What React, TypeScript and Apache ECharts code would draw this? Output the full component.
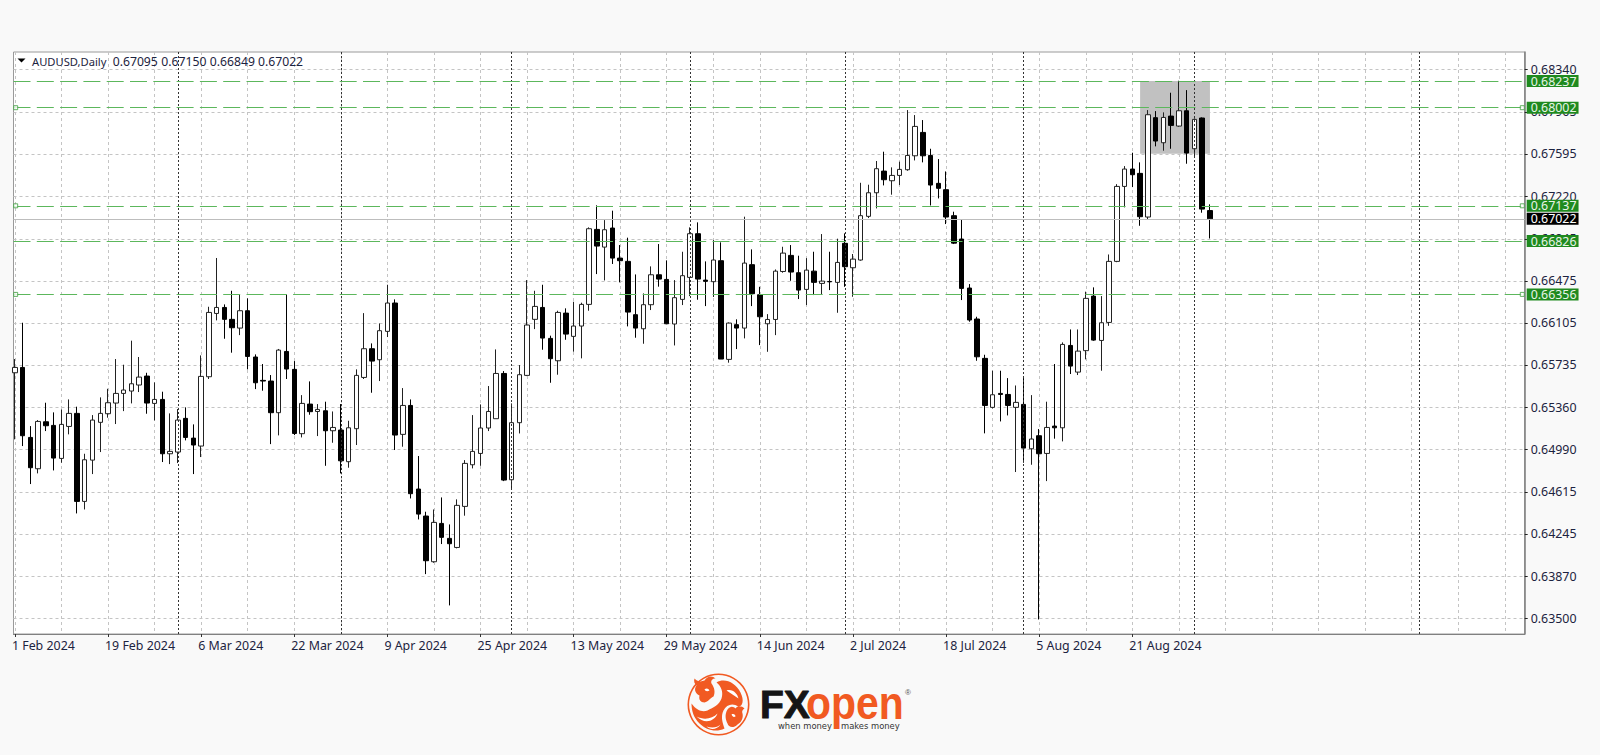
import React, { useEffect, useRef } from "react";
import * as echarts from "echarts";

const symbolTitle = "AUDUSD,Daily";
const ohlcText = ["0.67095", "0.67150", "0.66849", "0.67022"];

const opens = [
  0.65665, 0.65712, 0.65095, 0.64819, 0.65233, 0.65201, 0.6491, 0.65192, 0.65307, 0.64531,
  0.64895, 0.65228, 0.65304, 0.65398, 0.65483, 0.65504, 0.65557, 0.65636, 0.65395, 0.6543,
  0.64951, 0.64966, 0.65263, 0.65089, 0.65019, 0.6563, 0.66188, 0.66241, 0.66136, 0.66059,
  0.66212, 0.65804, 0.65598, 0.65592, 0.65313, 0.65853, 0.65695, 0.65128, 0.65389, 0.65324,
  0.6533, 0.65154, 0.6516, 0.64881, 0.65172, 0.65624, 0.65877, 0.6578, 0.6603, 0.6628,
  0.65122, 0.65377, 0.6464, 0.64402, 0.63999, 0.64337, 0.64205, 0.64125, 0.64487, 0.64854,
  0.64954, 0.65178, 0.6526, 0.65659, 0.64722, 0.65225, 0.65642, 0.66136, 0.66241, 0.65968,
  0.65771, 0.66191, 0.65986, 0.66077, 0.66268, 0.66929, 0.66773, 0.66941, 0.66676, 0.66647,
  0.66177, 0.66053, 0.66265, 0.66529, 0.66488, 0.66095, 0.66312, 0.66506, 0.66891, 0.66482,
  0.66468, 0.66653, 0.65783, 0.66089, 0.66059, 0.66618, 0.66353, 0.66097, 0.66135, 0.66558,
  0.667, 0.66547, 0.664, 0.66561, 0.66453, 0.6647, 0.66462, 0.66806, 0.66591, 0.66659,
  0.67044, 0.67252, 0.67443, 0.67358, 0.67405, 0.67455, 0.67578, 0.67784, 0.67581, 0.67335,
  0.67279, 0.6705, 0.66844, 0.66412, 0.66139, 0.65792, 0.6536, 0.65483, 0.65474, 0.6536,
  0.65386, 0.64995, 0.6511, 0.64954, 0.65195, 0.6518, 0.65906, 0.65671, 0.6586, 0.66341,
  0.6595, 0.66109, 0.66647, 0.67308, 0.67461, 0.67423, 0.67038, 0.67914, 0.67693, 0.67928,
  0.6784, 0.67975, 0.6764, 0.67911, 0.67095,
];
const closes = [
  0.65712, 0.6511, 0.64828, 0.65236, 0.65198, 0.64913, 0.6521, 0.65307, 0.64531, 0.64898,
  0.65248, 0.65307, 0.65401, 0.65483, 0.65513, 0.65568, 0.65627, 0.65398, 0.6543, 0.64951,
  0.64972, 0.65248, 0.65095, 0.65028, 0.65633, 0.66197, 0.66241, 0.66136, 0.66062, 0.66212,
  0.65809, 0.65577, 0.65592, 0.65313, 0.65865, 0.65698, 0.6513, 0.65395, 0.65322, 0.65342,
  0.65154, 0.65183, 0.64889, 0.6518, 0.65642, 0.65877, 0.65768, 0.66036, 0.6628, 0.65116,
  0.65377, 0.64599, 0.64419, 0.64008, 0.64346, 0.64214, 0.64158, 0.64496, 0.64866, 0.64972,
  0.65178, 0.65324, 0.65659, 0.64719, 0.65225, 0.65648, 0.66086, 0.6625, 0.65971, 0.65789,
  0.66197, 0.66006, 0.66077, 0.66268, 0.66935, 0.66782, 0.66926, 0.66676, 0.66653, 0.662,
  0.66059, 0.66265, 0.66529, 0.66491, 0.66097, 0.66327, 0.66521, 0.66891, 0.66491, 0.66471,
  0.66659, 0.65786, 0.66103, 0.66059, 0.66632, 0.66362, 0.66159, 0.66135, 0.66561, 0.6672,
  0.66553, 0.66394, 0.6657, 0.66462, 0.66473, 0.66467, 0.66638, 0.666, 0.66667, 0.6705,
  0.67252, 0.67464, 0.67367, 0.67405, 0.67458, 0.67581, 0.67837, 0.67578, 0.6732, 0.67291,
  0.67038, 0.66808, 0.66409, 0.6613, 0.65806, 0.65377, 0.65471, 0.65474, 0.65377, 0.65404,
  0.65001, 0.65081, 0.64951, 0.65183, 0.6518, 0.65915, 0.65724, 0.65856, 0.66321, 0.65953,
  0.66106, 0.66647, 0.67308, 0.67461, 0.67411, 0.67041, 0.6794, 0.67708, 0.67916, 0.67846,
  0.67975, 0.67602, 0.67899, 0.67108, 0.67022,
];
const lows = [
  0.65078, 0.65019, 0.64684, 0.64778, 0.65151, 0.64804, 0.64872, 0.65122, 0.64425, 0.6446,
  0.64772, 0.64966, 0.65269, 0.65213, 0.65327, 0.65395, 0.65495, 0.65304, 0.65245, 0.64878,
  0.6486, 0.64869, 0.65069, 0.64772, 0.64922, 0.6561, 0.66127, 0.65965, 0.65842, 0.65997,
  0.65695, 0.65521, 0.65507, 0.65036, 0.65113, 0.6561, 0.65116, 0.65095, 0.65295, 0.65107,
  0.64845, 0.65048, 0.64778, 0.64828, 0.65028, 0.6561, 0.65489, 0.65592, 0.6598, 0.64984,
  0.65013, 0.64557, 0.64372, 0.6389, 0.6399, 0.64155, 0.63614, 0.64117, 0.64405, 0.64822,
  0.64845, 0.65151, 0.6526, 0.6471, 0.64646, 0.6513, 0.65636, 0.6605, 0.65868, 0.65577,
  0.65648, 0.65956, 0.65851, 0.65792, 0.66212, 0.66535, 0.66479, 0.66624, 0.66462, 0.66074,
  0.65974, 0.65921, 0.66218, 0.66424, 0.66097, 0.65906, 0.66262, 0.66341, 0.66309, 0.66253,
  0.66333, 0.65786, 0.65754, 0.65874, 0.65968, 0.66253, 0.65909, 0.6585, 0.65997, 0.66547,
  0.66476, 0.66315, 0.66262, 0.6635, 0.66359, 0.66394, 0.66194, 0.66423, 0.66335, 0.66653,
  0.67029, 0.67114, 0.67317, 0.67235, 0.6732, 0.67446, 0.67537, 0.6752, 0.6714, 0.67202,
  0.66976, 0.668, 0.66306, 0.66115, 0.65771, 0.65131, 0.65351, 0.65236, 0.65289, 0.6479,
  0.64872, 0.64854, 0.6349, 0.6471, 0.65084, 0.6506, 0.65654, 0.65645, 0.65783, 0.65947,
  0.65683, 0.66079, 0.6664, 0.67123, 0.67302, 0.66961, 0.6702, 0.67661, 0.67623, 0.6764,
  0.67834, 0.67508, 0.67564, 0.67076, 0.66849,
];
const highs = [
  0.65786, 0.66106, 0.65195, 0.65248, 0.65401, 0.65316, 0.65342, 0.6543, 0.65366, 0.64951,
  0.65292, 0.65448, 0.65524, 0.65786, 0.65736, 0.65948, 0.65804, 0.65665, 0.6558, 0.65498,
  0.65307, 0.65345, 0.6536, 0.6521, 0.65818, 0.66247, 0.66677, 0.66268, 0.66388, 0.66356,
  0.66321, 0.65827, 0.65742, 0.65645, 0.65875, 0.66356, 0.65768, 0.65468, 0.65589, 0.65389,
  0.6541, 0.65324, 0.65389, 0.65242, 0.65695, 0.66191, 0.65924, 0.661, 0.66441, 0.66312,
  0.6553, 0.6543, 0.64931, 0.6444, 0.6446, 0.64566, 0.64328, 0.64549, 0.64895, 0.65292,
  0.65386, 0.65548, 0.65871, 0.6568, 0.65395, 0.65733, 0.66482, 0.66388, 0.66441, 0.65992,
  0.66212, 0.66233, 0.66291, 0.66283, 0.66947, 0.67141, 0.67011, 0.67094, 0.66791, 0.66856,
  0.66532, 0.66365, 0.66603, 0.668, 0.66656, 0.66482, 0.66732, 0.66947, 0.66991, 0.66647,
  0.66835, 0.66815, 0.66109, 0.66136, 0.67041, 0.66753, 0.66423, 0.66182, 0.66576, 0.66776,
  0.66791, 0.66697, 0.66676, 0.66732, 0.66888, 0.66732, 0.66847, 0.66894, 0.66712, 0.6734,
  0.67323, 0.67532, 0.67614, 0.67476, 0.67526, 0.67981, 0.67937, 0.67893, 0.6764, 0.67549,
  0.6744, 0.67085, 0.6702, 0.66447, 0.66159, 0.65824, 0.65683, 0.65683, 0.65618, 0.65553,
  0.65618, 0.65468, 0.65169, 0.6541, 0.65742, 0.65933, 0.66047, 0.66047, 0.6638, 0.66418,
  0.66341, 0.66708, 0.67328, 0.67487, 0.67605, 0.6752, 0.67981, 0.67972, 0.67961, 0.68134,
  0.6824, 0.68157, 0.67908, 0.67916, 0.6715,
];

const priceTicks = [
  0.6834, 0.67965, 0.67595, 0.6722, 0.66845, 0.66475, 0.66105, 0.65735, 0.6536, 0.6499, 0.64615, 0.64245, 0.6387,
  0.635,
];
const gridBarIndexes = [
  0, 6, 12, 18, 24, 30, 36, 42, 48, 54, 60, 66, 72, 78, 84, 90, 96, 102, 108, 114, 120, 126, 132, 138, 144, 150, 156,
  162, 168, 174, 180, 186, 192,
];
const dateLabelIndexes = [0, 12, 24, 36, 48, 60, 72, 84, 96, 108, 120, 132, 144];
const dateLabels = [
  "1 Feb 2024", "19 Feb 2024", "6 Mar 2024", "22 Mar 2024", "9 Apr 2024", "25 Apr 2024", "13 May 2024",
  "29 May 2024", "14 Jun 2024", "2 Jul 2024", "18 Jul 2024", "5 Aug 2024", "21 Aug 2024",
];
const periodSeparators = [21, 42, 64, 87, 107, 130, 152, 181];
const levelLines = [0.68237, 0.68002, 0.67137, 0.66826, 0.66356];
const anchoredLevels = [0.68002, 0.67137, 0.66356];
const lastPrice = 0.67022;
const zoneBars = [145, 154];
const zonePrices = [0.68237, 0.67595];

const UI_FONT = '"Noto Sans"';
const UI_SIZE = 12.4;
const GREEN = "#5cb75c";
const TAG_GREEN = "#1f8a1f";
const LABEL = "#1c2340";
const ORANGE = "#f15a22";

echarts.graphic.registerShape(
  "fxBullOrange",
  echarts.graphic.extendPath(
    "M-24 -26 C-20 -22 -17 -23 -14 -24 C-11 -29 -6 -29 -3 -26 C-6 -26 -8 -24 -7 -21 C-4 -17 -3 -12 -5 -8 C-9 -6 -10 -3 -14 -2 C-18 -2 -20 -5 -19 -9 C-23 -11 -25 -15 -22 -19 C-24 -21 -25 -23 -24 -26Z " +
      "M-2 -22 C6 -27 17 -22 22 -12 C26 -4 24 2 20 2 C14 -2 8 0 5 6 C2 12 4 18 6 24 C-2 28 -12 26 -19 19 C-25 13 -27 6 -27 -1 C-22 6 -16 8 -11 6 C-5 3 1 0 3 -6 C5 -12 3 -18 -2 -22Z " +
      "M9 5 C12 1 15 2 17 4 C19 1 23 1 26 4 C24 5 23 7 24 9 C25 13 23 18 19 20 C15 24 10 23 9 19 C7 15 6 10 9 5Z",
    {}
  )
);
echarts.graphic.registerShape(
  "fxBullWhite",
  echarts.graphic.extendPath(
    "M-22 12 C-14 16 -6 14 -1 9 C-4 17 -14 20 -22 12Z " +
      "M8 -14 C14 -16 19 -11 20 -6 C16 -9 12 -11 8 -14Z " +
      "M-14 -15 C-12 -17 -10 -16 -9 -14 C-11 -13 -13 -13 -14 -15Z " +
      "M-12 22 C-6 24 -1 23 2 20 C-1 25 -8 26 -12 22Z " +
      "M13 10 C15 9 17 10 17 12 C15 13 14 12 13 10Z",
    {}
  )
);

const fmt = (v: number) => v.toFixed(5);

export default function App() {
  const ref = useRef<HTMLDivElement>(null);

  useEffect(() => {
    const chart = echarts.init(ref.current!, undefined, { renderer: "svg" });

    const tagLabel = (v: number, bg: string) => ({
      show: true,
      position: "end",
      distance: 2,
      formatter: fmt(v),
      backgroundColor: bg,
      color: "#e8f5e8",
      fontFamily: UI_FONT,
      fontSize: UI_SIZE,
      padding: [0, 2, 0, 4],
      lineHeight: 12,
    });

    const xBase = { type: "value", min: -0.18, max: 194.56, gridIndex: 0, position: "bottom" };

    chart.setOption({
      animation: false,
      backgroundColor: "#f9f9f9",
      grid: {
        left: 13.5,
        right: 75.3,
        top: 52,
        bottom: 121,
        show: true,
        backgroundColor: "#ffffff",
        borderColor: "#9a9a9a",
        borderWidth: 1,
      },
      xAxis: [
        {
          ...xBase,
          axisLine: { show: false },
          axisLabel: { show: false },
          axisTick: { show: false, customValues: gridBarIndexes },
          splitLine: { show: true, lineStyle: { color: "#c4c4c4", type: [3, 3], width: 1 } },
        },
        {
          ...xBase,
          axisLine: { show: true, onZero: false, lineStyle: { color: "#808080", width: 1 } },
          splitLine: { show: false },
          axisTick: { show: true, length: 3, lineStyle: { color: "#333" }, customValues: dateLabelIndexes },
          axisLabel: {
            show: true,
            customValues: dateLabelIndexes,
            margin: 5,
            align: "left",
            padding: [0, 0, 0, -3],
            color: LABEL,
            fontFamily: UI_FONT,
            fontSize: UI_SIZE,
            hideOverlap: false,
            formatter: (v: number) => dateLabels[dateLabelIndexes.indexOf(v)] ?? "",
          },
        },
      ],
      yAxis: {
        type: "value",
        position: "right",
        min: 0.63362,
        max: 0.68493,
        axisLine: { show: true, onZero: false, lineStyle: { color: "#808080", width: 1.5 } },
        axisTick: { show: true, length: 3, lineStyle: { color: "#222" }, customValues: priceTicks },
        axisLabel: {
          show: true,
          customValues: priceTicks,
          margin: 6,
          color: LABEL,
          fontFamily: UI_FONT,
          fontSize: UI_SIZE,
          formatter: fmt,
          hideOverlap: false,
        },
        splitLine: { show: true, lineStyle: { color: "#c4c4c4", type: [3, 3], width: 1 } },
      },
      series: [
        {
          type: "candlestick",
          xAxisIndex: 0,
          z: 3,
          barWidth: 5,
          silent: true,
          data: opens.map((o, i) => [i, o, closes[i], lows[i], highs[i]]),
          itemStyle: { color: "#ffffff", color0: "#000000", borderColor: "#222222", borderColor0: "#000000", borderWidth: 1 },
          markArea: {
            silent: true,
            z: 1,
            itemStyle: { color: "#c1c1c1" },
            label: { show: false },
            data: [[{ xAxis: zoneBars[0], yAxis: zonePrices[0] }, { xAxis: zoneBars[1], yAxis: zonePrices[1] }]],
          },
        },
        {
          type: "scatter",
          xAxisIndex: 0,
          z: 5,
          silent: true,
          symbol: "rect",
          symbolSize: 4,
          itemStyle: { color: "#ffffff", borderColor: "#3f9f3f", borderWidth: 1 },
          data: anchoredLevels.flatMap((v) => [
            [0.1, v],
            [194.25, v],
          ]),
          markLine: {
            silent: true,
            symbol: "none",
            precision: 5,
            z: 4,
            animation: false,
            data: [
              ...periodSeparators.map((x) => ({
                xAxis: x,
                label: { show: false },
                lineStyle: { color: "#333", type: [2, 2], width: 1 },
              })),
              ...levelLines.map((v) => ({
                yAxis: v,
                label: tagLabel(v, TAG_GREEN),
                lineStyle: { color: GREEN, type: [17, 6.3], width: 1 },
              })),
              {
                yAxis: lastPrice,
                label: { ...tagLabel(lastPrice, "#000000"), color: "#ffffff" },
                lineStyle: { color: "#bdbdbd", type: "solid", width: 1 },
              },
            ],
          },
        },
      ],
      graphic: [
        {
          type: "polygon",
          z: 20,
          shape: { points: [[17.5, 58.5], [25.5, 58.5], [21.5, 62.5]] },
          style: { fill: "#000" },
        },
        {
          type: "text",
          z: 20,
          x: 32,
          y: 61,
          style: { text: symbolTitle, font: `11.2px ${UI_FONT}`, fill: LABEL, verticalAlign: "middle" },
        },
        ...ohlcText.map((t, i) => ({
          type: "text",
          z: 20,
          x: [112.7, 161.3, 209.8, 258][i],
          y: 61,
          style: { text: t, font: `12.2px ${UI_FONT}`, fill: LABEL, verticalAlign: "middle" },
        })),
        {
          type: "group",
          x: 718.5,
          y: 704.5,
          children: [
            { type: "ring", shape: { cx: 0, cy: 0, r: 31, r0: 29.4 }, style: { fill: ORANGE } },
            { type: "fxBullOrange", style: { fill: ORANGE } },
            { type: "fxBullWhite", style: { fill: "#ffffff" } },
          ],
        },
        {
          type: "text",
          x: 760,
          y: 704,
          style: {
            text: "FX",
            font: 'bold 39px "Liberation Sans"',
            fill: "#151515",
            stroke: "#151515",
            lineWidth: 1,
            verticalAlign: "middle",
          },
        },
        {
          type: "text",
          x: 806,
          y: 702,
          scaleX: 0.87,
          style: { text: "open", font: 'bold 47px "Liberation Sans"', fill: ORANGE, verticalAlign: "middle" },
        },
        {
          type: "text",
          x: 905,
          y: 692,
          style: { text: "®", font: '8px "Liberation Sans"', fill: "#555", verticalAlign: "middle" },
        },
        {
          type: "text",
          x: 778,
          y: 726,
          style: { text: "when money", font: '8.4px "DejaVu Sans"', fill: "#333", verticalAlign: "middle" },
        },
        {
          type: "text",
          x: 841,
          y: 726,
          style: { text: "makes money", font: '8.4px "DejaVu Sans"', fill: "#333", verticalAlign: "middle" },
        },
      ],
    });

    return () => chart.dispose();
  }, []);

  return (
    <div style={{ position: "fixed", left: 0, top: 0, width: 1600, height: 755, background: "#f9f9f9" }}>
      <div ref={ref} style={{ width: 1600, height: 755 }} />
    </div>
  );
}
